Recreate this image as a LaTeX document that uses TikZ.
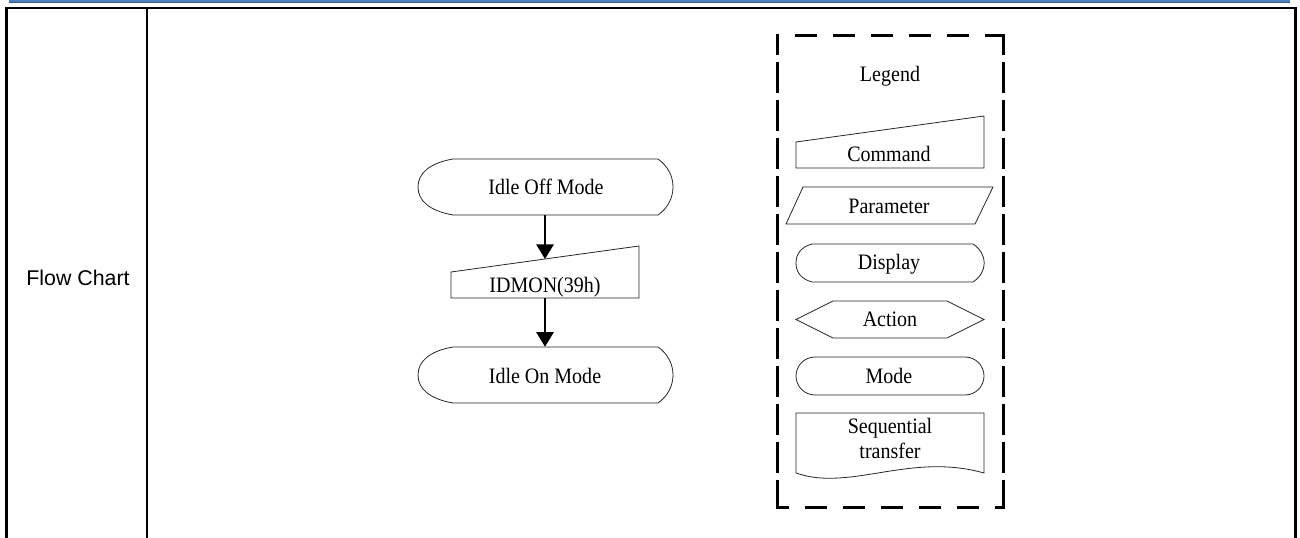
\documentclass[tikz,border=0pt]{standalone}
\usepackage{fontspec}
\setmainfont{Liberation Serif}[FakeStretch=0.91]
\setsansfont{Liberation Sans}
\usetikzlibrary{arrows.meta}
\definecolor{barblue}{RGB}{79,129,189}
\definecolor{bardark}{RGB}{56,93,138}
\begin{document}
\begin{tikzpicture}[x=0.75pt,y=-0.75pt,
  shp/.style={draw=black!85, line width=0.6pt},
  lbl/.style={font=\fontsize{16.5}{18.75}\selectfont, inner sep=0pt, anchor=base},
  arr/.style={line width=1.5pt, -{Triangle[length=11pt,width=13pt]}},
  hole/.style={draw=none, inner sep=0pt},
  hdash/.style={line width=2.25pt, dash pattern=on 16.5pt off 12pt},
  vdash/.style={line width=2.25pt, dash pattern=on 23.25pt off 5.25pt}]
\useasboundingbox (0,0) rectangle (1300,538);
% header bar and table lines
\fill[barblue] (9,0) rectangle (1290,1.8);
\fill[bardark] (9,1.8) rectangle (1290,2.8);
\fill[black] (5,7) rectangle (1297,9);
\fill[black] (5,7) rectangle (8,538);
\fill[black] (1294,7) rectangle (1297,538);
\fill[black] (146,9) rectangle (148,538);
\node[font=\sffamily\fontsize{16}{19}\selectfont, inner sep=0pt, anchor=base] (cell) at (78,286) {Flow Chart};

% ---- flow chart ----
\node[hole, minimum width=191.25pt, minimum height=42pt] (off) at (545,187) {};
\node[hole, minimum width=141pt, minimum height=39pt] (cmd) at (545,272) {};
\coordinate (cmdtop) at (545,259);
\node[hole, minimum width=191.25pt, minimum height=42pt] (on) at (545,375) {};

\draw[shp] (453,159) -- (658,159) .. controls (678,173) and (678,201) .. (658,215)
  -- (453,215) .. controls (430,211) and (418,201) .. (418,187)
  .. controls (418,173) and (430,163) .. (453,159) -- cycle;
\node[lbl] (offt) at (546,195) {Idle Off Mode};

\draw[shp] (451,272) -- (639,246) -- (639,298) -- (451,298) -- cycle;
\node[lbl] (cmdt) at (545,293) {IDMON(39h)};

\draw[shp] (453,347) -- (658,347) .. controls (678,361) and (678,389) .. (658,403)
  -- (453,403) .. controls (430,399) and (418,389) .. (418,375)
  .. controls (418,361) and (430,351) .. (453,347) -- cycle;
\node[lbl] (ont) at (545,383) {Idle On Mode};

\draw[arr] (off.south) -- (cmdtop);
\draw[arr] (cmd.south) -- (on.north);

% ---- legend ----
\draw[hdash, dash phase=14pt] (775.5,36) -- (1004.5,36);
\draw[hdash, dash phase=6.4pt] (775.5,507) -- (1004.5,507);
\draw[vdash, dash phase=8pt] (777,34.5) -- (777,508.5);
\draw[vdash, dash phase=8pt] (1003,34.5) -- (1003,508.5);
\node[lbl] (legt) at (890,82) {Legend};

\draw[shp] (796,142) -- (984,116) -- (984,168) -- (796,168) -- cycle;
\node[lbl] (comt) at (889,162) {Command};

\draw[shp] (803,187) -- (993,187) -- (975,224) -- (786,224) -- cycle;
\node[lbl] (part) at (889,214) {Parameter};

\draw[shp] (812,244) -- (973,244) .. controls (988,254) and (988,272) .. (973,282)
  -- (812,282) .. controls (801,279) and (796,272) .. (796,263)
  .. controls (796,254) and (801,247) .. (812,244) -- cycle;
\node[lbl] (dist) at (889,270) {Display};

\draw[shp] (796,319.5) -- (833,301) -- (947,301) -- (984,319.5) -- (947,338) -- (833,338) -- cycle;
\node[lbl] (actt) at (890,327) {Action};

\draw[shp, rounded corners=14.25pt] (796,357) rectangle (984,395);
\node[lbl] (modt) at (889,383) {Mode};

\draw[shp] (796,473) -- (796,413) -- (984,413) -- (984,473)
  .. controls (910,452) and (850,492) .. (796,473) -- cycle;
\node[lbl, anchor=south, align=center, text depth=0pt] (seqt) at (890,459) {Sequential\\transfer};
\end{tikzpicture}
\end{document}
